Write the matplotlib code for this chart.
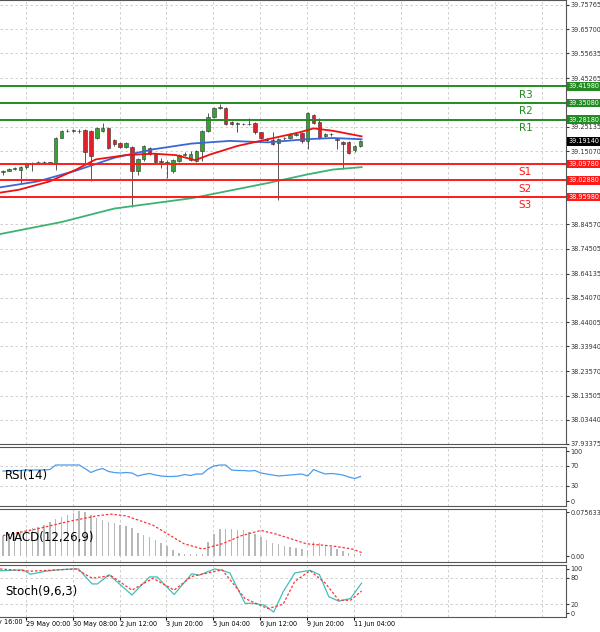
import numpy as np
import matplotlib.pyplot as plt

# candles (price)
opens = [39.064,39.070,39.078,39.074,39.084,39.101,39.104,39.105,39.104,39.095,39.207,39.233,39.235,39.236,39.238,39.235,
         39.207,39.235,39.245,39.196,39.186,39.169,39.168,39.070,39.116,39.165,39.140,39.109,39.102,39.067,39.109,39.134,
         39.112,39.109,39.151,39.235,39.294,39.331,39.331,39.271,39.265,39.264,39.264,39.266,39.228,39.200,39.196,39.186,
         39.203,39.207,39.219,39.224,39.191,39.301,39.271,39.212,39.220,39.200,39.189,39.189,39.154,39.171]
closes = [39.067,39.078,39.080,39.084,39.095,39.102,39.105,39.104,39.102,39.207,39.233,39.236,39.237,39.235,39.148,39.130,
          39.245,39.247,39.165,39.179,39.169,39.183,39.070,39.116,39.172,39.140,39.105,39.107,39.104,39.112,39.134,39.140,
          39.140,39.151,39.235,39.294,39.331,39.335,39.264,39.264,39.266,39.262,39.265,39.228,39.205,39.198,39.179,39.200,
          39.205,39.219,39.221,39.191,39.310,39.266,39.207,39.221,39.221,39.196,39.182,39.144,39.171,39.1914]
highs = [39.072,39.082,39.085,39.088,39.099,39.107,39.108,39.108,39.107,39.210,39.237,39.241,39.241,39.243,39.242,39.240,
         39.249,39.266,39.250,39.200,39.190,39.190,39.172,39.120,39.176,39.168,39.144,39.120,39.115,39.116,39.138,39.145,
         39.150,39.157,39.240,39.310,39.335,39.348,39.335,39.276,39.272,39.268,39.289,39.270,39.232,39.204,39.228,39.205,
         39.210,39.225,39.228,39.228,39.315,39.305,39.289,39.225,39.226,39.205,39.193,39.193,39.176,39.197]
lows = [39.050,39.066,39.074,39.018,39.078,39.070,39.099,39.099,39.097,39.074,39.203,39.229,39.229,39.227,39.102,39.025,
        39.200,39.230,39.160,39.172,39.163,39.165,38.920,39.053,39.110,39.136,39.100,39.080,39.039,39.060,39.105,39.130,
        39.108,39.105,39.109,39.230,39.290,39.326,39.259,39.258,39.228,39.258,39.258,39.222,39.200,39.194,39.174,38.948,
        39.198,39.202,39.214,39.186,39.158,39.262,39.200,39.208,39.215,39.158,39.078,39.140,39.148,39.166]

# moving averages (knots: candle index, price)
ma_red_x = [-0.5,2.7,8,12.5,15.8,21,25.6,29.5,32.8,35.4,40,45.2,50.5,53,56.3,61.2]
ma_red_y = [38.978,38.990,39.025,39.074,39.116,39.134,39.140,39.134,39.113,39.137,39.172,39.200,39.228,39.245,39.235,39.212]
ma_blue_x = [-0.5,6,12.5,19,25.6,32.2,38.7,45.2,51.8,56.3,61.2]
ma_blue_y = [39.000,39.025,39.070,39.123,39.158,39.182,39.193,39.187,39.200,39.205,39.200]
ma_green_x = [-0.5,10,19,32.2,45.2,51.8,56.3,61.2]
ma_green_y = [38.806,38.856,38.912,38.955,39.018,39.053,39.074,39.084]

levels = [39.4198,39.3508,39.2818,39.0978,39.0288,38.9598]
level_names = ["R3","R2","R1","S1","S2","S3"]
price_ticks = [39.75765,39.65700,39.55635,39.45265,39.25135,39.15070,38.84570,38.74505,38.64135,
               38.54070,38.44005,38.33940,38.23570,38.13505,38.03440,37.93375]

rsi = [60,60,61,61,62,62,62,62,63,72,72,72,72,72,65,57,62,65,59,57,56,57,56,50,53,55,52,50,49,49,50,53,
       51,54,54,64,70,72,72,62,61,61,60,61,56,54,52,50,51,52,53,54,50,63,58,54,55,54,52,48,45,49]

macd_hist = [.035,.038,.040,.043,.046,.048,.050,.053,.058,.063,.067,.071,.074,.077,.076,.070,.066,.062,.058,.056,
             .053,.051,.048,.040,.036,.032,.028,.022,.017,.010,.006,.004,.003,.003,.004,.024,.037,.046,.046,.046,
             .045,.044,.042,.038,.033,.028,.023,.020,.018,.016,.014,.012,.010,.024,.022,.018,.015,.012,.008,.006,.004,.003]
sig_x = [0,6,11,16,18.4,21,25.6,30.9,34.1,37.4,40.7,44,46.5,51.8,56.4,59.6,61.2]
sig_y = [.035,.047,.059,.069,.072,.069,.053,.021,.012,.021,.035,.044,.038,.021,.017,.012,.006]

k_x = [-0.5,3.4,4.7,7.3,9.3,11.9,12.9,15.2,16.1,18.1,22,25,26.3,29.2,32.2,33.5,36.1,37.4,38.7,41.3,42.6,44.6,46.2,
       47.8,49.8,52.4,54,55.6,57.3,59.3,61.2]
k_y = [96,98,88,95,98,100,100,66,66,87,41,82,82,42,89,86,100,97,91,22,22,18,2,48,91,97,87,37,27,33,68]
d_x = [-0.5,4.7,9.3,12.5,15.2,18.4,22,25.6,29.2,32.2,37.4,41.3,45.2,47.8,49.8,52.4,55,57.3,59.3,61.2]
d_y = [100,95,98,100,79,85,52,79,52,83,98,33,10,20,72,96,68,29,29,50]

date_labels = ["28 May 16:00","29 May 00:00","30 May 08:00","2 Jun 12:00","3 Jun 20:00",
               "5 Jun 04:00","6 Jun 12:00","9 Jun 20:00","11 Jun 04:00"]

FS = 4.7
W, H = 600, 632
fig = plt.figure(figsize=(6, 6.32), dpi=100)
def axes_px(top, bottom):
    return fig.add_axes([0, 1 - bottom / H, 566 / W, (bottom - top) / H])

step = 5.86
x0 = -3 / step
x1 = x0 + 566 / step
grid_x = [3.9 + 8 * k for k in range(-1, 13)]
gridkw = dict(color="#c8c8c8", lw=0.6, ls=(0, (3, 3)))

def style(ax):
    ax.set_xticks([])
    ax.yaxis.tick_right()
    ax.tick_params(axis="y", labelsize=FS, length=2, pad=1, colors="#333333")
    for g in grid_x:
        ax.axvline(g, **gridkw, zorder=0)
    for s in ax.spines.values():
        s.set_color("#555555")
        s.set_linewidth(0.8)
    ax.spines["left"].set_visible(False)
    ax.set_xlim(x0, x1)

# main price panel
ax = axes_px(0, 444)
style(ax)
ax.set_ylim(37.9379, 39.7784)
ax.set_yticks(price_ticks)
ax.set_yticklabels(["%.5f" % t for t in price_ticks])
for t in price_ticks:
    ax.axhline(t, **gridkw, zorder=0)
idx = np.arange(len(opens))
for i in idx:
    o, c = opens[i], closes[i]
    up = c >= o
    ax.vlines(i, lows[i], highs[i], color="#555555", lw=0.7, zorder=3)
    ax.bar(i, max(abs(c - o), 0.0012), 0.6, bottom=min(o, c),
           color="#33a333" if up else "#e0202a", edgecolor="#333333", lw=0.4, zorder=4)
ax.plot(ma_green_x, ma_green_y, color="#3cb371", lw=1.3, zorder=5)
ax.plot(ma_blue_x, ma_blue_y, color="#3a66d6", lw=1.3, zorder=5)
ax.plot(ma_red_x, ma_red_y, color="#ee1111", lw=1.3, zorder=5)
for lv, nm in zip(levels, level_names):
    col = "#228b22" if nm[0] == "R" else "#ff1a1a"
    ax.axhline(lv, color=col, lw=1.4, zorder=6)
    ax.text(88, lv - 0.035, nm, color=col, fontsize=7.5, va="center", zorder=7)
    ax.text(1.004, lv, "%.5f" % lv, transform=ax.get_yaxis_transform(), fontsize=FS, color="white",
            va="center", ha="left", bbox=dict(boxstyle="square,pad=0.2", fc=col, ec="none"), clip_on=False)
ax.text(1.004, closes[-1], "%.5f" % closes[-1], transform=ax.get_yaxis_transform(), fontsize=FS, color="white",
        va="center", ha="left", bbox=dict(boxstyle="square,pad=0.2", fc="black", ec="none"), clip_on=False)
ax.set_xlim(x0, x1)

# RSI
ar = axes_px(447, 506)
style(ar)
ar.set_ylim(-10, 108)
ar.set_yticks([0, 30, 70, 100])
for t in (30, 70):
    ar.axhline(t, **gridkw, zorder=0)
ar.plot(idx, rsi, color="#4a9cf0", lw=0.9)
ar.text(0.3, 50, "RSI(14)", fontsize=8.5, va="center")
ar.set_xlim(x0, x1)

# MACD
am = axes_px(509, 562)
style(am)
am.set_ylim(-0.0103, 0.0808)
am.set_yticks([0.075633, 0])
am.set_yticklabels(["0.075633", "0.00"])
am.bar(idx, macd_hist, 0.25, color="#b8b8b8")
am.plot(sig_x, sig_y, color="#ff3333", lw=0.9, ls=(0, (2, 1.5)))
am.text(0.3, 0.032, "MACD(12,26,9)", fontsize=8.5, va="center")
am.set_xlim(x0, x1)

# Stochastic
ast = axes_px(565, 617)
style(ast)
ast.set_ylim(-9, 109)
ast.set_yticks([0, 20, 80, 100])
for t in (20, 80):
    ast.axhline(t, **gridkw, zorder=0)
ast.plot(k_x, k_y, color="#40c0b8", lw=0.9)
ast.plot(d_x, d_y, color="#ff3333", lw=0.9, ls=(0, (2, 1.5)))
ast.text(0.3, 50, "Stoch(9,6,3)", fontsize=8.5, va="center")
ast.set_xticks(grid_x[1:len(date_labels)])
ast.set_xticklabels(date_labels[1:], fontsize=FS, ha="left")
ast.tick_params(axis="x", length=2, pad=1)
ast.set_xlim(x0, x1)
# first date label runs off the left edge of the figure
fig.text(-22 / W, 1 - 622 / H, date_labels[0], fontsize=FS, va="center", ha="left")

fig.savefig("out.png", dpi=100, facecolor="white")
